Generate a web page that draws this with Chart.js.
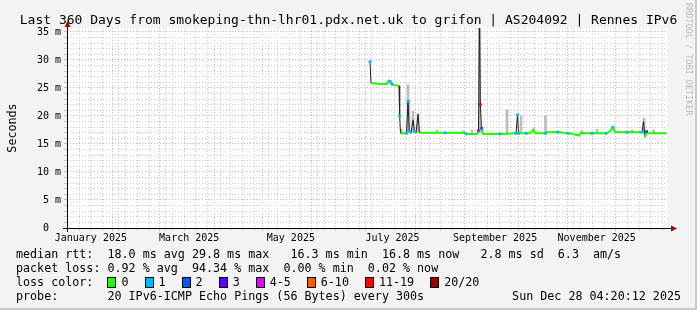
<!DOCTYPE html>
<html>
<head>
<meta charset="utf-8">
<script src="https://cdn.jsdelivr.net/npm/chart.js@4.4.1/dist/chart.umd.min.js"></script>
<style>
  html, body { margin: 0; padding: 0; background: #f3f3f3; }
  #wrap { position: relative; width: 697px; height: 310px; background: #f3f3f3; overflow: hidden;
          font-family: "DejaVu Sans Mono", monospace; color: #000; }
  #wrap:after { content: ""; position: absolute; left: 0; top: 0; right: 0; bottom: 0;
                box-shadow: inset -2px -2px 0 #c9c9c9; pointer-events: none; }
  canvas { position: absolute; left: 0; top: 0; }
  #title { position: absolute; left: 0; top: 12px; width: 697px; text-align: center;
           font-size: 13px; line-height: 16px; white-space: pre; }
  #credit { position: absolute; left: 684px; top: 3px; writing-mode: vertical-rl;
            font-size: 8.5px; color: #b9b9b9; white-space: pre; }
  .line { position: absolute; left: 16px; font-size: 11.7px; line-height: 14px; white-space: pre; }
  #lossRow { display: flex; align-items: center; height: 14px; }
  .sq { width: 9px; height: 11px; box-sizing: border-box; border: 1px solid #000; margin-right: 5px; }
  .lb { margin-right: 16px; }
  #stamp { position: absolute; right: 16px; top: 289px; font-size: 11.7px; line-height: 14px; white-space: pre; }
</style>
</head>
<body>
<div id="wrap">
  <canvas id="chart" width="697" height="310"></canvas>
  <div id="title">Last 360 Days from smokeping-thn-lhr01.pdx.net.uk to grifon | AS204092 | Rennes IPv6</div>
  <div id="credit">RRDTOOL / TOBI OETIKER</div>
  <div class="line" style="top:247px">median rtt:  18.0 ms avg 29.8 ms max   16.3 ms min  16.8 ms now   2.8 ms sd  6.3  am/s</div>
  <div class="line" style="top:261px">packet loss: 0.92 % avg  94.34 % max  0.00 % min  0.02 % now</div>
  <div class="line" style="top:275px"><div id="lossRow"><span>loss color:  </span></div></div>
  <div class="line" style="top:289px">probe:       20 IPv6-ICMP Echo Pings (56 Bytes) every 300s</div>
  <div id="stamp">Sun Dec 28 04:20:12 2025</div>
</div>
<script>
// graph window: 360 days ending Sun Dec 28 2025 04:20:12
const startMs = Date.UTC(2025, 0, 2, 4, 20, 12);
const DAY = 86400000;
const spanDays = 360;

// median rtt (ms) and loss bucket per sample, x = days since window start
const days = [181.8, 182.4, 187.8, 192.0, 192.9, 193.8, 195.0, 196.2, 199.2, 199.6,
  200.1, 203.7, 204.6, 205.4, 206.4, 207.6, 208.5, 209.4, 210.6, 211.5,
  226.8, 227.7, 238.8, 239.4, 246.0, 246.9, 247.5, 248.0, 248.7, 249.6,
  259.8, 261.0, 268.8, 269.4, 270.3, 270.9, 271.8, 275.4, 277.8, 279.9,
  280.8, 287.1, 287.7, 294.6, 295.4, 300.6, 301.8, 307.2, 308.1, 315.0,
  315.8, 323.4, 325.8, 327.6, 328.8, 336.0, 337.2, 345.0, 345.9, 346.8,
  347.7, 348.6, 359.7];
const median = [29.7, 25.9, 25.7, 25.7, 26.3, 26.2, 25.7, 25.5, 25.4, 20.0,
  16.9, 16.9, 22.6, 17.2, 16.9, 19.3, 17.3, 16.9, 20.3, 17.0,
  17.0, 17.0, 17.0, 16.8, 16.8, 17.4, 38.0, 22.0, 17.8, 16.8,
  16.8, 16.8, 16.9, 16.9, 20.2, 16.9, 16.9, 16.9, 16.9, 17.6,
  16.9, 16.9, 17.1, 17.1, 17.1, 16.9, 16.9, 16.5, 16.9, 16.9,
  16.9, 16.9, 17.3, 18.0, 17.1, 17.1, 17.1, 17.1, 19.0, 16.2,
  17.2, 16.9, 16.9];
const loss = [1, 0, 0, 0, 0, 1, 1, 0, 0, 1,
  0, 1, 1, 1, 0, 0, 1, 0, 0, 0,
  1, 0, 0, 1, 0, 4, 7, 6, 2, 0,
  1, 0, 0, 1, 1, 1, 0, 1, 0, 0,
  0, 1, 0, 1, 0, 1, 0, 0, 0, 1,
  0, 1, 0, 1, 0, 1, 0, 1, 0, 0,
  2, 0, 0];

// smoke: spread of the individual pings
const smokeDays = [200.7, 204.6, 205.2, 207.6, 210.6, 222.0, 238.0, 243.0, 247.5, 264.0,
  272.4, 287.1, 309.0, 318.0, 339.0, 346.2, 352.0];
const smokeLow = [16.8, 17.0, 17.0, 17.0, 17.0, 17.0, 17.0, 17.0, 17.0, 17.0,
  17.0, 17.0, 17.0, 17.0, 17.0, 17.0, 17.0];
const smokeHigh = [17.6, 25.6, 23.0, 20.8, 20.4, 17.5, 17.4, 17.5, 38.0, 21.1,
  20.0, 20.0, 17.4, 17.6, 17.5, 19.6, 17.5];

const lossColors = ['#26ff00', '#00b8ff', '#0059ff', '#5e00ff', '#dd00ff', '#ff5e00', '#ff0000', '#a10000'];
const lossLabels = ['0', '1', '2', '3', '4-5', '6-10', '11-19', '20/20'];
const monthLabels = ['January 2025', 'March 2025', 'May 2025', 'July 2025', 'September 2025', 'November 2025'];
const labelMonths = [0, 2, 4, 6, 8, 10];
const yTop = 35.7;

const MONO = '"DejaVu Sans Mono", monospace';
const MAJOR = '#f0a8a8';
const MINOR = '#c8c8c8';

// legend boxes
const row = document.getElementById('lossRow');
lossLabels.forEach((lab, i) => {
  const sq = document.createElement('span');
  sq.className = 'sq';
  sq.style.background = lossColors[i];
  const tx = document.createElement('span');
  tx.className = 'lb';
  tx.textContent = lab;
  row.appendChild(sq);
  row.appendChild(tx);
});

function dayOf(y, m, d) {
  return (Date.UTC(y, m, d) - startMs) / DAY;
}

// monthly major + weekly (monday) minor lines
function gridTicks() {
  const ticks = [];
  const months = [];
  for (let m = 0; m <= 12; m++) {
    const d = dayOf(2025, m, 1);
    if (d >= 0 && d <= spanDays) months.push(d);
  }
  for (let d = dayOf(2025, 0, 6); d <= spanDays; d += 7) {
    if (!months.some(v => Math.abs(v - d) < 0.5)) ticks.push({ value: d, major: false });
  }
  months.forEach(d => ticks.push({ value: d, major: true }));
  return ticks.sort((a, b) => a.value - b.value);
}

function labelTicks() {
  return labelMonths.map(m => ({ value: (dayOf(2025, m, 1) + dayOf(2025, m + 1, 1)) / 2 }));
}

const points = days.map((d, i) => ({ x: d, y: median[i] }));

const framePlugin = {
  id: 'frame',
  beforeDraw(chart) {
    const { ctx, chartArea: a } = chart;
    ctx.save();
    ctx.fillStyle = '#ffffff';
    ctx.fillRect(a.left, a.top, a.right - a.left, a.bottom - a.top);
    ctx.restore();
  },
  afterDraw(chart) {
    const { ctx, chartArea: a } = chart;
    ctx.save();
    ctx.strokeStyle = '#000';
    ctx.lineWidth = 1;
    ctx.beginPath();
    ctx.moveTo(a.left - 4, a.bottom + 0.5);
    ctx.lineTo(a.right + 6, a.bottom + 0.5);
    ctx.moveTo(a.left + 0.5, a.bottom + 4);
    ctx.lineTo(a.left + 0.5, a.top - 2);
    ctx.stroke();
    ctx.fillStyle = '#a00000';
    ctx.beginPath();
    ctx.moveTo(a.right + 10, a.bottom + 0.5);
    ctx.lineTo(a.right + 4, a.bottom - 2.5);
    ctx.lineTo(a.right + 4, a.bottom + 3.5);
    ctx.fill();
    ctx.beginPath();
    ctx.moveTo(a.left + 0.5, a.top - 7);
    ctx.lineTo(a.left - 2.5, a.top - 1);
    ctx.lineTo(a.left + 3.5, a.top - 1);
    ctx.fill();
    ctx.restore();
  }
};

new Chart(document.getElementById('chart'), {
  type: 'line',
  data: {
    datasets: [
      {
        type: 'bar',
        data: smokeDays.map((d, i) => ({ x: d, y: [smokeLow[i], smokeHigh[i]] })),
        backgroundColor: '#bcbcbc',
        barThickness: 2,
        grouped: false,
        order: 3
      },
      {
        data: points,
        borderColor: '#202020',
        borderWidth: 1,
        pointRadius: 0,
        tension: 0,
        order: 2
      },
      {
        data: points,
        borderColor: lossColors[0],
        borderWidth: 2,
        tension: 0,
        order: 1,
        segment: {
          borderColor: ctx => {
            if (Math.abs(ctx.p0.parsed.y - ctx.p1.parsed.y) > 1.1) return 'rgba(0,0,0,0)';
            return lossColors[Math.min(loss[ctx.p0DataIndex], loss[ctx.p1DataIndex])];
          }
        },
        pointStyle: 'rect',
        pointRadius: ctx => loss[ctx.dataIndex] > 0 ? 2 : 0,
        pointBorderWidth: 0,
        pointBackgroundColor: ctx => lossColors[loss[ctx.dataIndex]]
      }
    ]
  },
  options: {
    responsive: false,
    animation: false,
    devicePixelRatio: 1,
    layout: { padding: { top: 28, right: 30, left: 0, bottom: 0 } },
    plugins: { legend: { display: false }, tooltip: { enabled: false } },
    scales: {
      x: {
        type: 'linear',
        position: 'bottom',
        weight: 0,
        min: 0,
        max: spanDays,
        offset: false,
        afterBuildTicks: s => { s.ticks = gridTicks(); },
        afterFit: s => { s.height = 0; },
        ticks: { display: false },
        grid: {
          color: c => (c.tick && c.tick.major) ? MAJOR : MINOR,
          drawTicks: true,
          tickLength: 3
        },
        border: { display: false, dash: [1, 2] }
      },
      xl: {
        type: 'linear',
        position: 'bottom',
        weight: 1,
        min: 0,
        max: spanDays,
        afterBuildTicks: s => { s.ticks = labelTicks(); },
        afterFit: s => { s.height = 82; },
        grid: { display: false, drawTicks: false },
        border: { display: false },
        ticks: {
          autoSkip: false,
          maxRotation: 0,
          minRotation: 0,
          padding: 4,
          color: '#000',
          font: { family: MONO, size: 10 },
          callback: (v, i) => monthLabels[i]
        }
      },
      y: {
        type: 'linear',
        min: 0,
        max: yTop,
        afterBuildTicks: s => {
          const t = [];
          for (let v = 0; v <= 35; v++) t.push({ value: v });
          s.ticks = t;
        },
        afterFit: s => { s.width = 67; },
        grid: {
          color: c => (c.tick && c.tick.value % 5 === 0) ? MAJOR : MINOR,
          drawTicks: true,
          tickLength: 3
        },
        border: { display: false, dash: [1, 2] },
        ticks: {
          autoSkip: false,
          padding: 3,
          color: '#000',
          font: { family: MONO, size: 10 },
          callback: v => v % 5 !== 0 ? '' : (v === 0 ? '0  ' : v + ' m')
        },
        title: {
          display: true,
          text: 'Seconds',
          color: '#000',
          font: { family: MONO, size: 11.7 },
          padding: { top: 6, bottom: 0 }
        }
      }
    }
  },
  plugins: [framePlugin]
});
</script>
</body>
</html>
